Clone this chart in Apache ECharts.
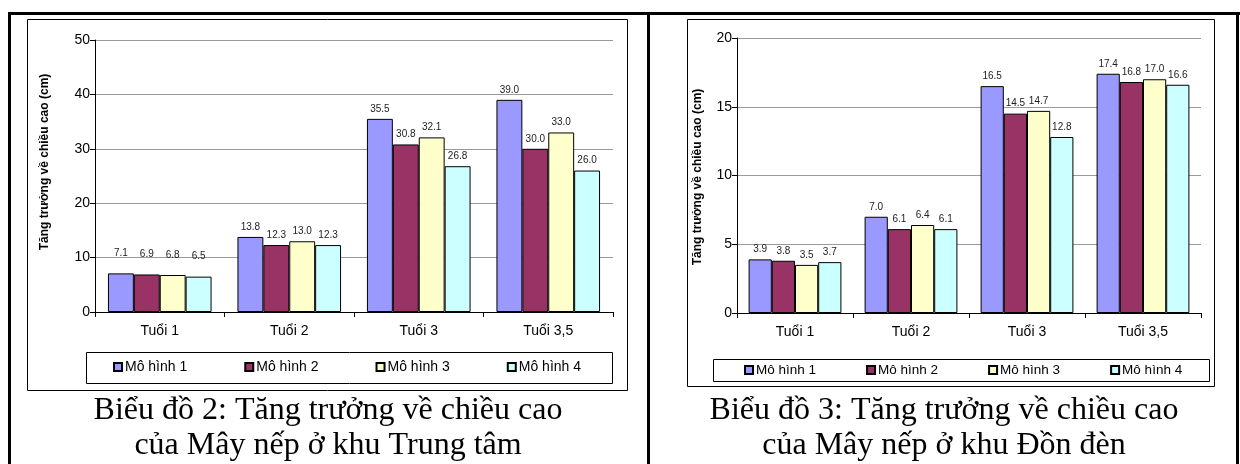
<!DOCTYPE html>
<html>
<head>
<meta charset="utf-8">
<script src="https://cdn.jsdelivr.net/npm/echarts@6/dist/echarts.min.js"></script>
<style>
html,body{margin:0;padding:0;background:#fff;}
#main{width:1240px;height:464px;}
</style>
</head>
<body>
<div id="main"></div>
<script>
// ---- data ----
const categories = ['Tuổi 1', 'Tuổi 2', 'Tuổi 3', 'Tuổi 3,5'];
const seriesNames = ['Mô hình 1', 'Mô hình 2', 'Mô hình 3', 'Mô hình 4'];
const colors = ['#9999FF', '#993366', '#FFFFCC', '#CCFFFF'];

// Biểu đồ 2 – khu Trung tâm
const left_m1 = [7.1, 13.8, 35.5, 39.0];
const left_m2 = [6.9, 12.3, 30.8, 30.0];
const left_m3 = [6.8, 13.0, 32.1, 33.0];
const left_m4 = [6.5, 12.3, 26.8, 26.0];
const leftYTicks = { min: 0, max: 50, interval: 10 };

// Biểu đồ 3 – khu Đồn đèn
const right_m1 = [3.9, 7.0, 16.5, 17.4];
const right_m2 = [3.8, 6.1, 14.5, 16.8];
const right_m3 = [3.5, 6.4, 14.7, 17.0];
const right_m4 = [3.7, 6.1, 12.8, 16.6];
const rightYTicks = { min: 0, max: 20, interval: 5 };

const yAxisTitle = 'Tăng trưởng về chiều cao (cm)';
const captionLeft = ['Biểu đồ 2: Tăng trưởng về chiều cao', 'của Mây nếp ở khu Trung tâm'];
const captionRight = ['Biểu đồ 3: Tăng trưởng về chiều cao', 'của Mây nếp ở khu Đồn đèn'];

// ---- chart ----
const SANS = '"Liberation Sans", Arial, sans-serif';
const SERIF = '"Liberation Serif", "Times New Roman", serif';
const chart = echarts.init(document.getElementById('main'), null, { renderer: 'canvas' });

function makeX(gi) {
  return {
    type: 'category', gridIndex: gi, data: categories,
    axisLine: { lineStyle: { color: '#000', width: 1 } },
    axisTick: { show: true, length: 5, lineStyle: { color: '#000' } },
    axisLabel: { fontFamily: SANS, fontSize: 14, color: '#000', margin: 12 }
  };
}
function makeY(gi, t) {
  return {
    type: 'value', gridIndex: gi, min: t.min, max: t.max, interval: t.interval,
    axisLine: { show: true, lineStyle: { color: '#000', width: 1 } },
    axisTick: { show: true, length: 5, lineStyle: { color: '#000' } },
    axisLabel: { fontFamily: SANS, fontSize: 14, color: '#000', margin: 5 },
    splitLine: { show: true, lineStyle: { color: '#9a9a9a', width: 1 } }
  };
}
function makeSeries(gi, arrays, firstGroupExtra) {
  return arrays.map((arr, k) => ({
    type: 'bar', name: seriesNames[k], xAxisIndex: gi, yAxisIndex: gi,
    barGap: '0%', barCategoryGap: '20%',
    itemStyle: { color: colors[k], borderColor: '#000', borderWidth: 1 },
    label: {
      show: true, position: 'top', distance: 5,
      fontFamily: SANS, fontSize: 10, color: '#222',
      formatter: p => Number(p.value).toFixed(1)
    },
    data: arr.map((v, i) => (i === 0 && firstGroupExtra) ? { value: v, label: { distance: 5 + firstGroupExtra } } : v)
  }));
}

const g = [];
// table borders
g.push({ type: 'rect', shape: { x: 8, y: 12, width: 1232, height: 3 }, style: { fill: '#000' } });
g.push({ type: 'rect', shape: { x: 8, y: 12, width: 3, height: 452 }, style: { fill: '#000' } });
g.push({ type: 'rect', shape: { x: 647, y: 12, width: 3, height: 452 }, style: { fill: '#000' } });
g.push({ type: 'rect', shape: { x: 1236, y: 12, width: 3, height: 452 }, style: { fill: '#000' } });
// chart area boxes
g.push({ type: 'rect', shape: { x: 27.5, y: 19.5, width: 600, height: 371 }, style: { fill: 'none', stroke: '#000', lineWidth: 1 }, z: -1 });
g.push({ type: 'rect', shape: { x: 687.5, y: 19.5, width: 527, height: 367 }, style: { fill: 'none', stroke: '#000', lineWidth: 1 }, z: -1 });
// legend boxes
g.push({ type: 'rect', shape: { x: 86.5, y: 352.5, width: 526, height: 31 }, style: { fill: 'none', stroke: '#000', lineWidth: 1 } });
g.push({ type: 'rect', shape: { x: 713.5, y: 359.5, width: 496, height: 22 }, style: { fill: 'none', stroke: '#000', lineWidth: 1 } });
// y axis titles
g.push({ type: 'text', x: 45, y: 162, rotation: Math.PI / 2,
  style: { text: yAxisTitle, font: 'bold 12px ' + SANS, fill: '#000', textAlign: 'center', textVerticalAlign: 'middle' } });
g.push({ type: 'text', x: 698, y: 177, rotation: Math.PI / 2,
  style: { text: yAxisTitle, font: 'bold 12px ' + SANS, fill: '#000', textAlign: 'center', textVerticalAlign: 'middle' } });
// captions
[[captionLeft, 328], [captionRight, 944]].forEach(([lines, cx]) => {
  lines.forEach((t, i) => g.push({ type: 'text', x: cx, y: 411 + i * 35,
    style: { text: t, font: '32px ' + SERIF, fill: '#000', textAlign: 'center', textVerticalAlign: 'middle' } }));
});

const option = {
  animation: false,
  backgroundColor: '#fff',
  grid: [
    { left: 95, top: 40, width: 518, height: 272 },
    { left: 737, top: 38, width: 464, height: 275 }
  ],
  xAxis: [makeX(0), makeX(1)],
  yAxis: [makeY(0, leftYTicks), makeY(1, rightYTicks)],
  legend: [
    { data: seriesNames, left: 113, top: 360, padding: 0, itemGap: 57, itemWidth: 8, itemHeight: 8, icon: 'rect',
      textStyle: { fontFamily: SANS, fontSize: 14, color: '#000', padding: [0, 0, 0, -2] } },
    { data: seriesNames, left: 744, top: 363, padding: 0, itemGap: 50, itemWidth: 8, itemHeight: 8, icon: 'rect',
      textStyle: { fontFamily: SANS, fontSize: 13.5, color: '#000', padding: [0, 0, 0, -2] } }
  ],
  series: makeSeries(0, [left_m1, left_m2, left_m3, left_m4], 10)
    .concat(makeSeries(1, [right_m1, right_m2, right_m3, right_m4], 0)),
  graphic: g
};
chart.setOption(option);
</script>
</body>
</html>
